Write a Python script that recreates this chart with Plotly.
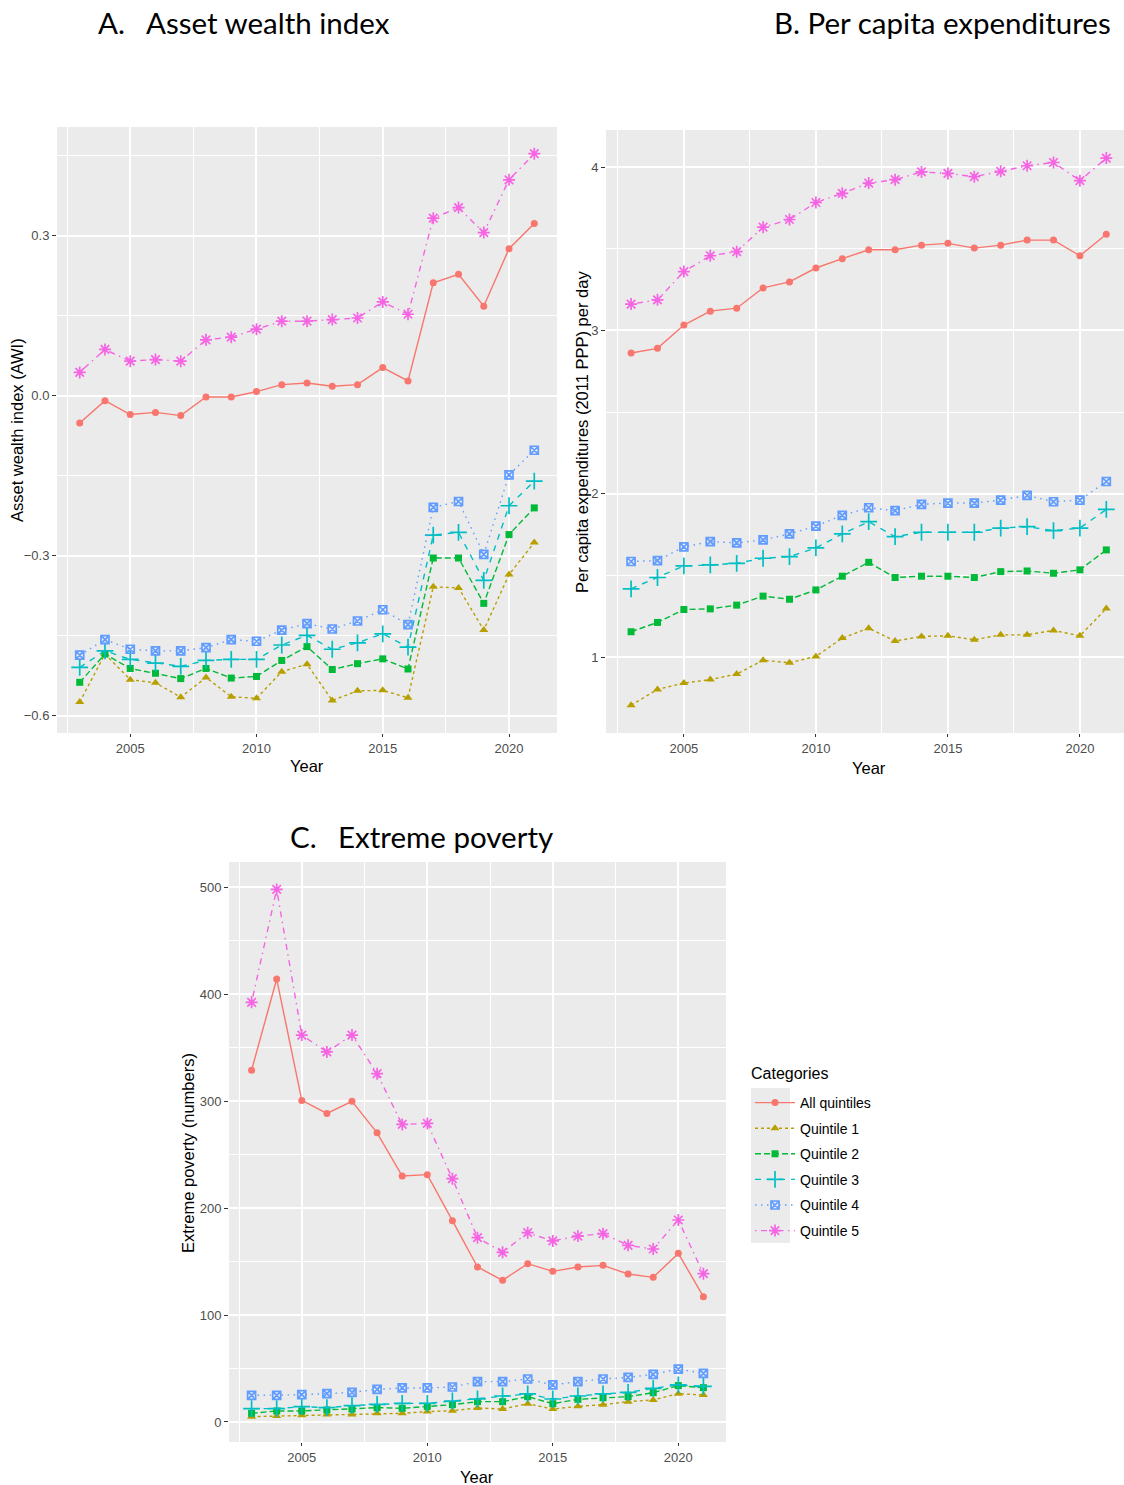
import plotly.graph_objects as go

# ---------------------------------------------------------------------------
# Data
# ---------------------------------------------------------------------------
years = list(range(2003, 2022))

categories = ["All quintiles", "Quintile 1", "Quintile 2", "Quintile 3", "Quintile 4", "Quintile 5"]

# A. Asset wealth index (AWI)
awi_all = [-0.051, -0.009, -0.035, -0.031, -0.037, -0.002, -0.002, 0.008, 0.021, 0.024,
           0.018, 0.021, 0.053, 0.028, 0.212, 0.228, 0.168, 0.276, 0.323]
awi_q1 = [-0.574, -0.484, -0.532, -0.538, -0.565, -0.528, -0.564, -0.567, -0.517, -0.503,
          -0.571, -0.553, -0.552, -0.566, -0.358, -0.360, -0.439, -0.335, -0.275]
awi_q2 = [-0.537, -0.484, -0.511, -0.520, -0.530, -0.511, -0.529, -0.526, -0.496, -0.470,
          -0.513, -0.502, -0.493, -0.512, -0.304, -0.304, -0.389, -0.260, -0.210]
awi_q3 = [-0.509, -0.478, -0.494, -0.501, -0.507, -0.496, -0.494, -0.494, -0.467, -0.449,
          -0.475, -0.463, -0.446, -0.471, -0.261, -0.256, -0.346, -0.206, -0.160]
awi_q4 = [-0.486, -0.457, -0.475, -0.478, -0.478, -0.472, -0.457, -0.460, -0.439, -0.427,
          -0.437, -0.422, -0.401, -0.429, -0.209, -0.198, -0.297, -0.148, -0.102]
awi_q5 = [0.044, 0.087, 0.065, 0.068, 0.065, 0.105, 0.110, 0.125, 0.140, 0.140,
          0.143, 0.146, 0.176, 0.153, 0.333, 0.353, 0.306, 0.405, 0.454]

# B. Per capita expenditures (2011 PPP) per day
pce_all = [2.862, 2.890, 3.033, 3.118, 3.136, 3.260, 3.297, 3.382, 3.439, 3.494,
           3.494, 3.522, 3.533, 3.504, 3.522, 3.553, 3.553, 3.457, 3.589]
pce_q1 = [0.705, 0.802, 0.841, 0.862, 0.896, 0.980, 0.965, 1.004, 1.116, 1.177,
          1.098, 1.126, 1.130, 1.106, 1.136, 1.136, 1.163, 1.130, 1.297]
pce_q2 = [1.155, 1.212, 1.291, 1.295, 1.318, 1.373, 1.354, 1.411, 1.495, 1.580,
          1.487, 1.495, 1.495, 1.487, 1.523, 1.527, 1.513, 1.534, 1.656]
pce_q3 = [1.418, 1.487, 1.558, 1.564, 1.574, 1.605, 1.615, 1.668, 1.754, 1.829,
          1.737, 1.764, 1.764, 1.764, 1.790, 1.798, 1.774, 1.790, 1.904]
pce_q4 = [1.585, 1.591, 1.674, 1.707, 1.699, 1.717, 1.754, 1.802, 1.868, 1.914,
          1.896, 1.935, 1.943, 1.943, 1.961, 1.990, 1.951, 1.961, 2.075]
pce_q5 = [3.161, 3.187, 3.360, 3.457, 3.482, 3.632, 3.679, 3.783, 3.839, 3.902,
          3.923, 3.970, 3.961, 3.941, 3.974, 4.008, 4.028, 3.917, 4.055]

# C. Extreme poverty (numbers)
pov_all = [328.8, 414.0, 300.6, 288.4, 299.7, 270.3, 229.9, 231.2, 188.2, 144.9,
           132.4, 148.0, 140.8, 144.9, 146.4, 138.3, 135.2, 157.6, 117.1]
pov_q1 = [5.0, 5.6, 6.2, 6.9, 6.9, 8.1, 8.1, 9.7, 10.6, 13.1,
          12.1, 17.1, 12.1, 14.6, 16.2, 19.0, 20.6, 26.5, 25.2]
pov_q2 = [8.1, 10.3, 10.3, 11.2, 12.1, 13.4, 12.8, 14.6, 16.2, 19.0,
          19.0, 23.7, 17.1, 21.2, 22.7, 23.7, 27.4, 34.0, 32.1]
pov_q3 = [12.5, 12.5, 14.3, 13.4, 15.3, 16.5, 17.4, 17.4, 19.6, 21.5,
          24.3, 26.2, 21.5, 24.3, 26.2, 27.7, 31.5, 34.6, 33.3]
pov_q4 = [24.9, 24.9, 25.5, 26.5, 27.7, 30.5, 31.8, 31.8, 32.7, 37.7,
          37.7, 40.2, 34.6, 37.7, 40.2, 41.7, 44.5, 49.5, 45.5]
pov_q5 = [392.2, 497.8, 361.6, 345.9, 361.6, 325.6, 278.1, 279.1, 227.4, 172.3,
          158.6, 176.9, 169.2, 173.8, 176.0, 165.1, 161.7, 188.8, 138.6]

# ---------------------------------------------------------------------------
# Styling (ggplot2 default hue palette, linetypes and shapes)
# ---------------------------------------------------------------------------
W, H = 1124, 1485
colors = ["#F8766D", "#B79F00", "#00BA38", "#00BFC4", "#619CFF", "#F564E3"]
dashes = ["solid", "3px,3px", "6px,3px", "6px,6px", "1.5px,4.5px", "1.5px,4.5px,6px,4.5px"]
symbols = ["circle", "triangle-up", "square", "cross-thin-open", "square-x-open", "asterisk-open"]
sizes = [7, 8, 7, 12, 8, 10]
open_sym = [False, False, False, True, True, True]

SANS = "Liberation Sans, Arial, sans-serif"
TICK_FONT = dict(family=SANS, size=13, color="#4D4D4D")
TITLE_FONT = dict(family=SANS, size=16.5, color="#000000")
HEAD_FONT = dict(family="Lato, Carlito, Calibri, sans-serif", size=29.5, color="#000000")


def px_x(x):
    return x / W


def px_y(y):
    return 1 - y / H


fig = go.Figure()

panels = [
    ("x", "y", [awi_all, awi_q1, awi_q2, awi_q3, awi_q4, awi_q5], False),
    ("x2", "y2", [pce_all, pce_q1, pce_q2, pce_q3, pce_q4, pce_q5], False),
    ("x3", "y3", [pov_all, pov_q1, pov_q2, pov_q3, pov_q4, pov_q5], True),
]

for xa, ya, series, show in panels:
    for i, vals in enumerate(series):
        marker = dict(symbol=symbols[i], size=sizes[i], color=colors[i])
        if open_sym[i]:
            marker["line"] = dict(color=colors[i], width=1.7)
        else:
            marker["line"] = dict(width=0)
        fig.add_trace(go.Scatter(
            x=years, y=vals, xaxis=xa, yaxis=ya,
            mode="lines+markers", name=categories[i],
            legendgroup=categories[i], showlegend=show,
            line=dict(color=colors[i], width=1.4, dash=dashes[i]),
            marker=marker,
        ))

# ---------------------------------------------------------------------------
# Axes
# ---------------------------------------------------------------------------
def xaxis(domain, rng):
    return dict(
        domain=domain, range=rng, tickmode="linear", tick0=2005, dtick=5,
        showgrid=True, gridcolor="white", gridwidth=2, zeroline=False,
        ticks="outside", ticklen=3, tickwidth=1, tickcolor="#333333",
        tickfont=TICK_FONT, showline=False, fixedrange=True,
        minor=dict(tickmode="linear", tick0=2002.5, dtick=2.5, showgrid=True,
                   gridcolor="white", gridwidth=1, ticks=""),
    )


def yaxis(domain, rng, tick0, dtick, anchor, fmt=None):
    d = dict(
        domain=domain, range=rng, anchor=anchor, tickmode="linear", tick0=tick0, dtick=dtick,
        showgrid=True, gridcolor="white", gridwidth=2, zeroline=False,
        ticks="outside", ticklen=4, tickwidth=1, tickcolor="#333333",
        tickfont=TICK_FONT, showline=False, fixedrange=True,
        minor=dict(tickmode="linear", tick0=tick0 + dtick / 2, dtick=dtick, showgrid=True,
                   gridcolor="white", gridwidth=1, ticks=""),
    )
    if fmt:
        d["tickformat"] = fmt
    return d


dom_a_x = [px_x(57), px_x(557)]
dom_a_y = [px_y(733), px_y(127)]
dom_b_x = [px_x(606), 1.0]
dom_b_y = [px_y(733), px_y(130)]
dom_c_x = [px_x(229), px_x(726)]
dom_c_y = [px_y(1442), px_y(862)]

fig.update_layout(
    xaxis=dict(xaxis(dom_a_x, [2002.1, 2021.9]), anchor="y"),
    yaxis=yaxis(dom_a_y, [-0.632, 0.504], -0.6, 0.3, "x", ".1f"),
    xaxis2=dict(xaxis(dom_b_x, [2002.05, 2021.67]), anchor="y2"),
    yaxis2=yaxis(dom_b_y, [0.535, 4.227], 1, 1, "x2"),
    xaxis3=dict(xaxis(dom_c_x, [2002.1, 2021.9]), anchor="y3"),
    yaxis3=yaxis(dom_c_y, [-18.7, 523.4], 0, 100, "x3"),
)

# Panel backgrounds
shapes = []
for (x0, x1), (y0, y1), in [(dom_a_x, dom_a_y), (dom_b_x, dom_b_y), (dom_c_x, dom_c_y)]:
    shapes.append(dict(type="rect", xref="paper", yref="paper", x0=x0, x1=x1, y0=y0, y1=y1,
                       fillcolor="#EBEBEB", line=dict(width=0), layer="below"))
# Legend key background
shapes.append(dict(type="rect", xref="paper", yref="paper",
                   x0=px_x(751), x1=px_x(790), y0=px_y(1243), y1=px_y(1088),
                   fillcolor="#EBEBEB", line=dict(width=0), layer="below"))

# ---------------------------------------------------------------------------
# Text: panel headings, axis titles, legend title
# ---------------------------------------------------------------------------
ann = []


def text(x, y, s, font, xanchor="center", yanchor="middle", angle=0):
    ann.append(dict(x=px_x(x), y=px_y(y), xref="paper", yref="paper", text=s,
                    showarrow=False, font=font, xanchor=xanchor, yanchor=yanchor,
                    textangle=angle))


text(96, 22, "A.", HEAD_FONT, xanchor="left")
text(144, 22, "Asset wealth index", HEAD_FONT, xanchor="left")
text(1113, 22, "B. Per capita expenditures", HEAD_FONT, xanchor="right")
text(288, 836, "C.", HEAD_FONT, xanchor="left")
text(336, 836, "Extreme poverty", HEAD_FONT, xanchor="left")

text(307, 766, "Year", TITLE_FONT)
text(869, 768, "Year", TITLE_FONT)
text(477, 1477, "Year", TITLE_FONT)
text(17, 430, "Asset wealth index (AWI)", TITLE_FONT, angle=-90)
text(582, 432, "Per capita expenditures (2011 PPP) per day", TITLE_FONT, angle=-90)
text(188, 1153, "Extreme poverty (numbers)", TITLE_FONT, angle=-90)

text(749, 1073, "Categories", dict(family=SANS, size=16, color="#000000"), xanchor="left")

fig.update_layout(
    width=W, height=H,
    margin=dict(l=0, r=0, t=0, b=0),
    paper_bgcolor="white", plot_bgcolor="rgba(0,0,0,0)",
    shapes=shapes, annotations=ann,
    showlegend=True,
    legend=dict(
        x=px_x(750), y=px_y(1087), xanchor="left", yanchor="top",
        bgcolor="rgba(0,0,0,0)", borderwidth=0,
        font=dict(family=SANS, size=14, color="#000000"),
        traceorder="grouped", tracegroupgap=4.4, itemwidth=40,
    ),
)

fig.write_html("out.html")
